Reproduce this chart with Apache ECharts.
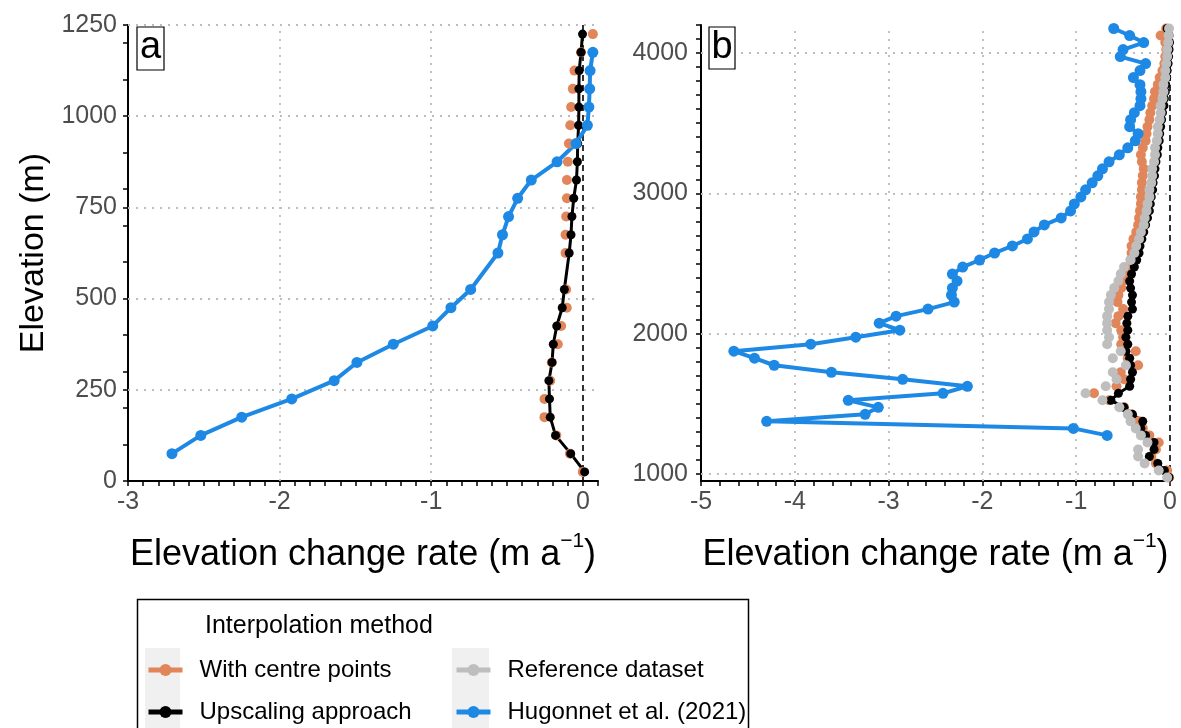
<!DOCTYPE html>
<html>
<head>
<meta charset="utf-8">
<script src="https://cdn.jsdelivr.net/npm/echarts@6/dist/echarts.min.js"></script>
<style>
html,body{margin:0;padding:0;background:#fff;}
#chart{width:1181px;height:728px;}
</style>
</head>
<body>
<div id="chart"></div>
<script>
// ---------- Panel a data (elevation bins, m) ----------
const elevA = [25,75,125,175,225,275,325,375,425,475,525,625,675,725,775,825,875,925,975,1025,1075,1125,1175,1225];
const centreA = [0.0,-0.085,-0.175,-0.253,-0.253,-0.215,-0.205,-0.165,-0.143,-0.106,-0.11,-0.114,-0.114,-0.11,-0.105,-0.105,-0.099,-0.092,-0.083,-0.077,-0.066,-0.055,-0.012,0.066];
const upscaleA = [0.012,-0.08,-0.18,-0.215,-0.22,-0.224,-0.203,-0.195,-0.172,-0.136,-0.122,-0.09,-0.078,-0.072,-0.06,-0.042,-0.036,-0.034,-0.028,-0.026,-0.026,-0.024,-0.012,-0.002];
const hugonnetA = [null,-2.71,-2.52,-2.25,-1.92,-1.64,-1.49,-1.25,-0.99,-0.87,-0.74,-0.56,-0.53,-0.49,-0.43,-0.34,-0.17,-0.045,0.03,0.04,0.045,0.048,0.066,null];

// ---------- Panel b data ----------
const elevB = [975,1025,1075,1125,1175,1225,1275,1325,1375,1425,
  1475,1525,1575,1625,1675,1725,1775,1825,1875,1925,
  1975,2025,2075,2125,2175,2225,2275,2325,2375,2425,
  2475,2525,2575,2625,2675,2725,2775,2825,2875,2925,
  2975,3025,3075,3125,3175,3225,3275,3325,3375,3425,
  3475,3525,3575,3625,3675,3725,3775,3825,3875,3925,
  3975,4025,4075,4125,4175];
const centreB = [-0.01,-0.03,-0.15,-0.20,-0.15,-0.12,-0.22,-0.29,-0.33,-0.42,
  -0.49,-0.65,-0.81,-0.57,-0.49,-0.525,-0.34,-0.45,-0.365,-0.52,
  -0.50,-0.52,-0.58,-0.55,-0.50,-0.56,-0.55,-0.52,-0.50,-0.47,
  -0.44,-0.42,-0.41,-0.41,-0.39,-0.36,-0.34,-0.33,-0.32,-0.31,
  -0.31,-0.30,-0.30,-0.29,-0.28,-0.30,-0.31,-0.29,-0.26,-0.25,
  -0.24,-0.22,-0.21,-0.19,-0.17,-0.16,-0.13,-0.11,-0.08,-0.06,
  -0.05,-0.04,-0.05,-0.10,-0.04];
const upscaleB = [-0.01,-0.06,-0.13,-0.22,-0.17,-0.17,-0.26,-0.31,-0.29,-0.40,
  -0.49,-0.63,-0.55,-0.43,-0.42,-0.40,-0.42,-0.43,-0.47,-0.45,
  -0.47,-0.45,-0.46,-0.45,-0.40,-0.41,-0.40,-0.42,-0.43,-0.41,
  -0.38,-0.355,-0.33,-0.32,-0.30,-0.28,-0.26,-0.24,-0.22,-0.21,
  -0.20,-0.185,-0.18,-0.165,-0.16,-0.15,-0.135,-0.13,-0.115,-0.11,
  -0.10,-0.09,-0.08,-0.065,-0.06,-0.05,-0.045,-0.035,-0.03,-0.02,
  -0.015,-0.01,-0.005,-0.01,-0.03];
const referenceB = [-0.03,-0.12,-0.27,-0.34,-0.34,-0.24,-0.31,-0.365,-0.42,-0.45,
  -0.54,-0.72,-0.90,-0.685,-0.57,-0.61,-0.47,-0.61,-0.525,-0.67,
  -0.65,-0.67,-0.67,-0.67,-0.65,-0.65,-0.63,-0.595,-0.55,-0.525,
  -0.49,-0.42,-0.38,-0.36,-0.33,-0.31,-0.28,-0.27,-0.25,-0.24,
  -0.22,-0.22,-0.20,-0.19,-0.19,-0.17,-0.16,-0.16,-0.14,-0.13,
  -0.13,-0.11,-0.10,-0.10,-0.08,-0.07,-0.07,-0.05,-0.05,-0.04,
  -0.03,-0.03,-0.02,-0.015,-0.01];
const hugonnetB = [null,null,null,null,null,null,
  -0.67,-1.03,-4.30,-3.25,-3.11,-3.43,-2.42,-2.16,-2.85,-3.61,
  -4.22,-4.43,-4.65,-3.83,-3.35,-2.88,-3.10,-2.92,-2.58,-2.30,
  -2.33,-2.32,-2.27,-2.32,-2.21,-2.03,-1.87,-1.68,-1.52,-1.45,
  -1.34,-1.16,-1.06,-1.02,-0.95,-0.90,-0.83,-0.77,-0.72,-0.65,
  -0.54,-0.45,-0.37,-0.34,-0.43,-0.42,-0.38,-0.32,-0.31,-0.31,
  -0.32,-0.39,-0.32,-0.26,-0.53,-0.50,-0.28,-0.43,-0.60];

// ---------- Tick labels ----------
const xLabelsA = [-3,-2,-1,0];
const yLabelsA = [0,250,500,750,1000,1250];
const xLabelsB = [-5,-4,-3,-2,-1,0];
const yLabelsB = [1000,2000,3000,4000];
const seriesNames = ['With centre points','Upscaling approach','Reference dataset','Hugonnet et al. (2021)'];

// ---------- helpers ----------
function steps(a, b, s) { const o = []; for (let v = a; v <= b + 1e-9; v += s) o.push(Math.round(v * 1000) / 1000); return o; }
function pairs(xs, ys) { const o = []; for (let i = 0; i < ys.length; i++) { if (xs[i] !== null) o.push([xs[i], ys[i]]); } return o; }
const plain = v => String(v);

const FF = '"Liberation Sans", Arial, Helvetica, sans-serif';
const C_OR = '#E0865A', C_BK = '#000000', C_GR = '#BEBEBE', C_BL = '#1E88E5';
const gridDot = { color: '#BDBDBD', width: 1.8, type: [2, 6] };
const zeroDash = { color: '#000', width: 1.6, type: [6, 4] };

function gridMarks(xs, ys) {
  const d = [];
  xs.forEach(v => d.push({ xAxis: v, lineStyle: gridDot }));
  ys.forEach(v => d.push({ yAxis: v, lineStyle: gridDot }));
  d.push({ xAxis: 0, lineStyle: zeroDash });
  return { silent: true, symbol: ['none', 'none'], label: { show: false }, z: 1, animation: false, emphasis: { disabled: true }, data: d };
}

const xTitle = '{n|Elevation change rate (m a}{sup|\u22121}{n|)}';
const titleStyle = { fontSize: 36, color: '#000', fontFamily: FF, rich: {
  n: { fontSize: 36, fontFamily: FF, color: '#000', lineHeight: 48 },
  sup: { fontSize: 21, fontFamily: FF, color: '#000', verticalAlign: 'top', lineHeight: 22 } } };
const tickLab = { fontSize: 25, color: '#4D4D4D', fontFamily: FF, formatter: plain };
const axLine = { show: true, onZero: false, lineStyle: { color: '#000', width: 2 } };
const tickStyle = { color: '#000', width: 1.5 };

function pointSeries(name, color, data, xi, size, withLine, lw, extra) {
  const s = {
    name: name, type: 'line', xAxisIndex: xi, yAxisIndex: xi, data: data,
    symbol: 'circle', symbolSize: size, showSymbol: true,
    itemStyle: { color: color, borderWidth: 0 },
    lineStyle: { color: color, width: lw, opacity: withLine ? 1 : 0 },
    emphasis: { disabled: true }, silent: true, z: 2
  };
  return Object.assign(s, extra || {});
}

function legendOne(name, left, top) {
  return { orient: 'horizontal', left: left, top: top, padding: 0, itemWidth: 34, itemHeight: 15, selectedMode: false,
    textStyle: { fontSize: 24, color: '#000', fontFamily: FF, padding: [0, 0, 0, 12] },
    data: [ { name: name, lineStyle: { opacity: 1, width: 5 } } ] };
}

const option = {
  animation: false,
  backgroundColor: '#ffffff',
  grid: [
    { left: 128, top: 25, width: 470, height: 456 },
    { left: 701, top: 25, width: 469, height: 456 }
  ],
  xAxis: [
    { type: 'value', gridIndex: 0, min: -3, max: 0.1,
      name: xTitle, nameLocation: 'middle', nameGap: 50, nameTextStyle: titleStyle,
      axisLine: axLine, axisTick: { show: true, customValues: steps(-3, 0.1, 0.1), length: 5, lineStyle: tickStyle },
      axisLabel: Object.assign({ customValues: xLabelsA, margin: 9 }, tickLab), splitLine: { show: false } },
    { type: 'value', gridIndex: 1, min: -5, max: 0,
      name: xTitle, nameLocation: 'middle', nameGap: 50, nameTextStyle: titleStyle,
      axisLine: axLine, axisTick: { show: true, customValues: steps(-5, 0, 0.2), length: 5, lineStyle: tickStyle },
      axisLabel: Object.assign({ customValues: xLabelsB, margin: 9 }, tickLab), splitLine: { show: false } }
  ],
  yAxis: [
    { type: 'value', gridIndex: 0, min: 0, max: 1250,
      name: 'Elevation (m)', nameLocation: 'middle', nameGap: 77, nameTextStyle: { fontSize: 34, color: '#000', fontFamily: FF },
      axisLine: axLine, axisTick: { show: true, customValues: [0,100,200,250,300,400,500,600,700,750,800,900,1000,1100,1200,1250], length: 5, lineStyle: tickStyle },
      axisLabel: Object.assign({ customValues: yLabelsA, margin: 11 }, tickLab), splitLine: { show: false } },
    { type: 'value', gridIndex: 1, min: 950, max: 4200,
      axisLine: axLine, axisTick: { show: true, customValues: steps(1000, 4200, 100), length: 5, lineStyle: tickStyle },
      axisLabel: Object.assign({ customValues: yLabelsB, margin: 13 }, tickLab), splitLine: { show: false } }
  ],
  legend: [
    legendOne(seriesNames[0], 146, 658),
    legendOne(seriesNames[1], 146, 700),
    legendOne(seriesNames[2], 454, 658),
    legendOne(seriesNames[3], 454, 700)
  ],
  graphic: [
    { type: 'rect', z: 0, shape: { x: 145, y: 648, width: 35, height: 95 }, style: { fill: '#F0F0F0' } },
    { type: 'rect', z: 0, shape: { x: 452, y: 648, width: 37, height: 95 }, style: { fill: '#F0F0F0' } },
    { type: 'rect', z: 0, shape: { x: 137.5, y: 599.5, width: 611, height: 140 }, style: { fill: 'none', stroke: '#000', lineWidth: 1.5 } },
    { type: 'text', z: 10, x: 205, y: 626, style: { text: 'Interpolation method', font: '25px ' + FF, fill: '#000', textVerticalAlign: 'middle', verticalAlign: 'middle' } },
    { type: 'rect', z: 100, shape: { x: 137, y: 27, width: 27, height: 43 }, style: { fill: '#fff', stroke: '#000', lineWidth: 1.2 } },
    { type: 'text', z: 101, x: 150.5, y: 48, style: { text: 'a', font: '38px ' + FF, fill: '#000', textAlign: 'center', align: 'center', textVerticalAlign: 'middle', verticalAlign: 'middle' } },
    { type: 'rect', z: 100, shape: { x: 709, y: 27, width: 26, height: 42 }, style: { fill: '#fff', stroke: '#000', lineWidth: 1.2 } },
    { type: 'text', z: 101, x: 722, y: 48, style: { text: 'b', font: '38px ' + FF, fill: '#000', textAlign: 'center', align: 'center', textVerticalAlign: 'middle', verticalAlign: 'middle' } }
  ],
  series: [
    pointSeries(seriesNames[0], C_OR, pairs(centreA, elevA), 0, 10, false, 3, { markLine: gridMarks([-2, -1], [250, 500, 750, 1000, 1250]) }),
    pointSeries(seriesNames[1], C_BK, pairs(upscaleA, elevA), 0, 9, true, 3),
    pointSeries(seriesNames[3], C_BL, pairs(hugonnetA, elevA), 0, 11, true, 4),
    pointSeries(seriesNames[0], C_OR, pairs(centreB, elevB), 1, 10, false, 3, { markLine: gridMarks([-4, -3, -2, -1], [1000, 2000, 3000, 4000]) }),
    pointSeries(seriesNames[1], C_BK, pairs(upscaleB, elevB), 1, 9, true, 3),
    pointSeries(seriesNames[2], C_GR, pairs(referenceB, elevB), 1, 10, false, 3),
    pointSeries(seriesNames[3], C_BL, pairs(hugonnetB, elevB), 1, 11, true, 4)
  ]
};

const chart = echarts.init(document.getElementById('chart'), null, { renderer: 'canvas' });
chart.setOption(option);
</script>
</body>
</html>
